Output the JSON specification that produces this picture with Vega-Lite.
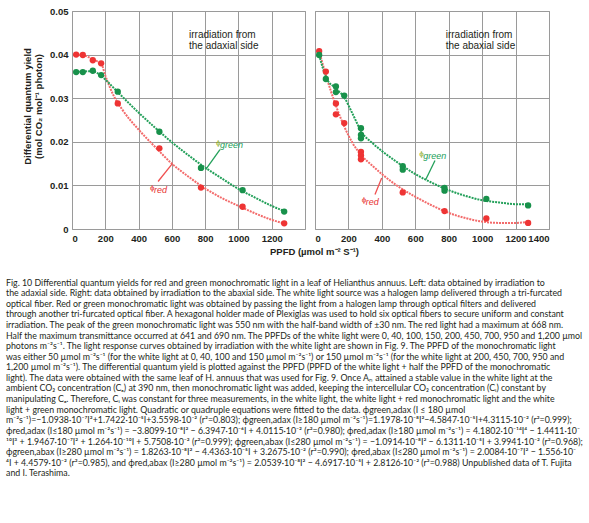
{
  "$schema": "https://vega.github.io/schema/vega-lite/v6.json",
  "background": "white",
  "padding": {"left": 6, "top": 5, "right": 3, "bottom": 5},
  "bounds": "flush",
  "spacing": 10,
  "title": {
    "text": [
      "Fig. 10  Differential quantum yields for red and green monochromatic light in a leaf of Helianthus annuus. Left: data obtained by irradiation to",
      "the adaxial side. Right: data obtained by irradiation to the abaxial side. The white light source was a halogen lamp delivered through a tri-furcated",
      "optical fiber. Red or green monochromatic light was obtained by passing the light from a halogen lamp through optical filters and delivered",
      "through another tri-furcated optical fiber. A hexagonal holder made of Plexiglas was used to hold six optical fibers to secure uniform and constant",
      "irradiation. The peak of the green monochromatic light was 550 nm with the half-band width of ±30 nm. The red light had a maximum at 668 nm.",
      "Half the maximum transmittance occurred at 641 and 690 nm. The PPFDs of the white light were 0, 40, 100, 150, 200, 450, 700, 950 and 1,200 µmol",
      "photons m⁻²s⁻¹. The light response curves obtained by irradiation with the white light are shown in Fig. 9. The PPFD of the monochromatic light",
      "was either 50 µmol m⁻²s⁻¹ (for the white light at 0, 40, 100 and 150 µmol m⁻²s⁻¹) or 150 µmol m⁻²s⁻¹ (for the white light at 200, 450, 700, 950 and",
      "1,200 µmol m⁻²s⁻¹). The differential quantum yield is plotted against the PPFD (PPFD of the white light + half the PPFD of the monochromatic",
      "light). The data were obtained with the same leaf of H. annuus that was used for Fig. 9. Once Aₙ attained a stable value in the white light at the",
      "ambient CO₂ concentration (Cₐ) at 390 nm, then monochromatic light was added, keeping the intercellular CO₂ concentration (Cᵢ) constant by",
      "manipulating Cₐ. Therefore, Cᵢ was constant for three measurements, in the white light, the white light + red monochromatic light and the white",
      "light + green   monochromatic   light.   Quadratic   or   quadruple   equations   were   fitted   to   the   data.   ϕgreen,adax   (I ≤ 180 µmol",
      "m⁻²s⁻¹)=−1.0938·10⁻⁷I²+1.7422·10⁻⁵I+3.5598·10⁻² (r²=0.803); ϕgreen,adax (I≥180 µmol m⁻²s⁻¹)=1.1978·10⁻⁸I²−4.5847·10⁻⁵I+4.3115·10⁻² (r²=0.999);",
      "ϕred,adax (I≤180 µmol m⁻²s⁻¹) = −3.8099·10⁻⁸I² − 6.3947·10⁻⁶I + 4.0115·10⁻² (r²=0.980); ϕred,adax (I≥180 µmol m⁻²s⁻¹) = 4.1802·10⁻¹⁴I⁴ − 1.4411·10⁻",
      "¹⁰I³ + 1.9467·10⁻⁷I² + 1.264·10⁻¹⁰I + 5.7508·10⁻² (r²=0.999); ϕgreen,abax (I≤280 µmol m⁻²s⁻¹) = −1.0914·10⁻⁸I² − 6.1311·10⁻⁵I + 3.9941·10⁻² (r²=0.968);",
      "ϕgreen,abax (I≥280 µmol m⁻²s⁻¹) = 1.8263·10⁻⁸I² − 4.4363·10⁻⁵I + 3.2675·10⁻² (r²=0.990); ϕred,abax (I≤280 µmol m⁻²s⁻¹) = 2.0084·10⁻⁷I² − 1.556·10⁻",
      "⁴I + 4.4579·10⁻² (r²=0.985), and ϕred,abax (I≥280 µmol m⁻²s⁻¹) = 2.0539·10⁻⁸I² − 4.6917·10⁻⁵I + 2.8126·10⁻² (r²=0.988) Unpublished data of T. Fujita",
      "and I. Terashima."
    ],
    "orient": "bottom",
    "anchor": "start",
    "frame": "bounds",
    "font": "Lato",
    "fontSize": 8.8,
    "fontWeight": "normal",
    "color": "#231f20",
    "lineHeight": 10.6,
    "offset": 22,
    "dx": -16
  },
  "datasets": {
    "adax_pts": [
      {"ppfd": 25, "yield": 0.0400, "series": "red"},
      {"ppfd": 65, "yield": 0.0399, "series": "red"},
      {"ppfd": 125, "yield": 0.0387, "series": "red"},
      {"ppfd": 175, "yield": 0.0380, "series": "red"},
      {"ppfd": 275, "yield": 0.0288, "series": "red"},
      {"ppfd": 525, "yield": 0.0185, "series": "red"},
      {"ppfd": 775, "yield": 0.0095, "series": "red"},
      {"ppfd": 1025, "yield": 0.0051, "series": "red"},
      {"ppfd": 1275, "yield": 0.0013, "series": "red"},
      {"ppfd": 25, "yield": 0.0360, "series": "green"},
      {"ppfd": 65, "yield": 0.0360, "series": "green"},
      {"ppfd": 125, "yield": 0.0363, "series": "green"},
      {"ppfd": 175, "yield": 0.0353, "series": "green"},
      {"ppfd": 275, "yield": 0.0315, "series": "green"},
      {"ppfd": 525, "yield": 0.0223, "series": "green"},
      {"ppfd": 775, "yield": 0.0140, "series": "green"},
      {"ppfd": 1025, "yield": 0.0089, "series": "green"},
      {"ppfd": 1275, "yield": 0.0040, "series": "green"}
    ],
    "adax_fit": [
      {"ppfd": 25, "yield": 0.0400, "series": "red fit"},
      {"ppfd": 65, "yield": 0.0399, "series": "red fit"},
      {"ppfd": 100, "yield": 0.0394, "series": "red fit"},
      {"ppfd": 125, "yield": 0.0389, "series": "red fit"},
      {"ppfd": 150, "yield": 0.0385, "series": "red fit"},
      {"ppfd": 175, "yield": 0.0380, "series": "red fit"},
      {"ppfd": 200, "yield": 0.0352, "series": "red fit"},
      {"ppfd": 250, "yield": 0.0306, "series": "red fit"},
      {"ppfd": 300, "yield": 0.0275, "series": "red fit"},
      {"ppfd": 400, "yield": 0.0228, "series": "red fit"},
      {"ppfd": 500, "yield": 0.0188, "series": "red fit"},
      {"ppfd": 600, "yield": 0.0150, "series": "red fit"},
      {"ppfd": 700, "yield": 0.0120, "series": "red fit"},
      {"ppfd": 800, "yield": 0.0093, "series": "red fit"},
      {"ppfd": 900, "yield": 0.0071, "series": "red fit"},
      {"ppfd": 1000, "yield": 0.0053, "series": "red fit"},
      {"ppfd": 1100, "yield": 0.0036, "series": "red fit"},
      {"ppfd": 1200, "yield": 0.0021, "series": "red fit"},
      {"ppfd": 1275, "yield": 0.0013, "series": "red fit"},
      {"ppfd": 25, "yield": 0.0360, "series": "green fit"},
      {"ppfd": 65, "yield": 0.0361, "series": "green fit"},
      {"ppfd": 100, "yield": 0.0362, "series": "green fit"},
      {"ppfd": 125, "yield": 0.0362, "series": "green fit"},
      {"ppfd": 150, "yield": 0.0358, "series": "green fit"},
      {"ppfd": 175, "yield": 0.0352, "series": "green fit"},
      {"ppfd": 200, "yield": 0.0343, "series": "green fit"},
      {"ppfd": 275, "yield": 0.0314, "series": "green fit"},
      {"ppfd": 400, "yield": 0.0267, "series": "green fit"},
      {"ppfd": 500, "yield": 0.0232, "series": "green fit"},
      {"ppfd": 600, "yield": 0.0199, "series": "green fit"},
      {"ppfd": 700, "yield": 0.0169, "series": "green fit"},
      {"ppfd": 800, "yield": 0.0141, "series": "green fit"},
      {"ppfd": 900, "yield": 0.0116, "series": "green fit"},
      {"ppfd": 1000, "yield": 0.0092, "series": "green fit"},
      {"ppfd": 1100, "yield": 0.0072, "series": "green fit"},
      {"ppfd": 1200, "yield": 0.0053, "series": "green fit"},
      {"ppfd": 1275, "yield": 0.0041, "series": "green fit"}
    ],
    "abax_pts": [
      {"ppfd": 25, "yield": 0.0408, "series": "red"},
      {"ppfd": 65, "yield": 0.0361, "series": "red"},
      {"ppfd": 125, "yield": 0.0288, "series": "red"},
      {"ppfd": 125, "yield": 0.0263, "series": "red"},
      {"ppfd": 175, "yield": 0.0243, "series": "red"},
      {"ppfd": 275, "yield": 0.0177, "series": "red"},
      {"ppfd": 275, "yield": 0.0169, "series": "red"},
      {"ppfd": 275, "yield": 0.0160, "series": "red"},
      {"ppfd": 525, "yield": 0.0084, "series": "red"},
      {"ppfd": 775, "yield": 0.0041, "series": "red"},
      {"ppfd": 1025, "yield": 0.0024, "series": "red"},
      {"ppfd": 1275, "yield": 0.0014, "series": "red"},
      {"ppfd": 25, "yield": 0.0399, "series": "green"},
      {"ppfd": 65, "yield": 0.0344, "series": "green"},
      {"ppfd": 125, "yield": 0.0327, "series": "green"},
      {"ppfd": 125, "yield": 0.0314, "series": "green"},
      {"ppfd": 175, "yield": 0.0306, "series": "green"},
      {"ppfd": 275, "yield": 0.0231, "series": "green"},
      {"ppfd": 275, "yield": 0.0216, "series": "green"},
      {"ppfd": 275, "yield": 0.0208, "series": "green"},
      {"ppfd": 525, "yield": 0.0144, "series": "green"},
      {"ppfd": 525, "yield": 0.0136, "series": "green"},
      {"ppfd": 775, "yield": 0.0094, "series": "green"},
      {"ppfd": 775, "yield": 0.0088, "series": "green"},
      {"ppfd": 1025, "yield": 0.0069, "series": "green"},
      {"ppfd": 1275, "yield": 0.0054, "series": "green"}
    ],
    "abax_fit": [
      {"ppfd": 25, "yield": 0.0408, "series": "red fit"},
      {"ppfd": 65, "yield": 0.0353, "series": "red fit"},
      {"ppfd": 125, "yield": 0.0283, "series": "red fit"},
      {"ppfd": 175, "yield": 0.0235, "series": "red fit"},
      {"ppfd": 225, "yield": 0.0197, "series": "red fit"},
      {"ppfd": 280, "yield": 0.0168, "series": "red fit"},
      {"ppfd": 350, "yield": 0.0143, "series": "red fit"},
      {"ppfd": 400, "yield": 0.0126, "series": "red fit"},
      {"ppfd": 500, "yield": 0.0097, "series": "red fit"},
      {"ppfd": 600, "yield": 0.0074, "series": "red fit"},
      {"ppfd": 700, "yield": 0.0054, "series": "red fit"},
      {"ppfd": 800, "yield": 0.0037, "series": "red fit"},
      {"ppfd": 900, "yield": 0.0025, "series": "red fit"},
      {"ppfd": 1000, "yield": 0.0017, "series": "red fit"},
      {"ppfd": 1100, "yield": 0.0014, "series": "red fit"},
      {"ppfd": 1200, "yield": 0.0014, "series": "red fit"},
      {"ppfd": 1275, "yield": 0.0016, "series": "red fit"},
      {"ppfd": 25, "yield": 0.0399, "series": "green fit"},
      {"ppfd": 65, "yield": 0.0349, "series": "green fit"},
      {"ppfd": 125, "yield": 0.0322, "series": "green fit"},
      {"ppfd": 175, "yield": 0.0302, "series": "green fit"},
      {"ppfd": 225, "yield": 0.0264, "series": "green fit"},
      {"ppfd": 280, "yield": 0.0222, "series": "green fit"},
      {"ppfd": 350, "yield": 0.0195, "series": "green fit"},
      {"ppfd": 400, "yield": 0.0179, "series": "green fit"},
      {"ppfd": 500, "yield": 0.0151, "series": "green fit"},
      {"ppfd": 600, "yield": 0.0126, "series": "green fit"},
      {"ppfd": 700, "yield": 0.0106, "series": "green fit"},
      {"ppfd": 800, "yield": 0.0089, "series": "green fit"},
      {"ppfd": 900, "yield": 0.0076, "series": "green fit"},
      {"ppfd": 1000, "yield": 0.0066, "series": "green fit"},
      {"ppfd": 1100, "yield": 0.0061, "series": "green fit"},
      {"ppfd": 1200, "yield": 0.0057, "series": "green fit"},
      {"ppfd": 1275, "yield": 0.0057, "series": "green fit"}
    ]
  },
  "hconcat": [
    {
      "width": 233,
      "height": 218,
      "layer": [
        {
          "data": {"name": "adax_fit"},
          "mark": {"type": "line", "strokeWidth": 2, "strokeDash": [2, 1], "interpolate": "monotone"},
          "encoding": {
            "x": {"field": "ppfd", "type": "quantitative", "scale": {"domain": [0, 1400], "nice": false},
              "axis": {"values": [0, 200, 400, 600, 800, 1000, 1200, 1400], "format": "d", "labelOverlap": false, "labelExpr": "datum.value == 1400 ? '' : datum.label", "title": "PPFD (µmol m⁻² S⁻¹)", "titleX": 242, "titleAlign": "center", "titlePadding": 4}},
            "y": {"field": "yield", "type": "quantitative", "scale": {"domain": [0, 0.05], "nice": false},
              "axis": {"values": [0, 0.01, 0.02, 0.03, 0.04, 0.05], "format": ".2~f", "labelOverlap": false, "title": ["Differential quantum yield", "(mol CO₂ mol⁻¹ photon)"], "titleY": 95, "titleLineHeight": 11, "titlePadding": 6}},
            "color": {"field": "series", "type": "nominal", "legend": null,
              "scale": {"domain": ["red", "green", "red fit", "green fit"], "range": ["#ee3434", "#18914b", "#f36b6b", "#23a05a"]}}
          }
        },
        {
          "data": {"name": "adax_pts"},
          "mark": {"type": "circle", "size": 40, "opacity": 1},
          "encoding": {
            "x": {"field": "ppfd", "type": "quantitative",
              "axis": {"values": [0, 200, 400, 600, 800, 1000, 1200, 1400], "format": "d", "labelOverlap": false, "labelExpr": "datum.value == 1400 ? '' : datum.label", "title": "PPFD (µmol m⁻² S⁻¹)", "titleX": 242, "titleAlign": "center", "titlePadding": 4}},
            "y": {"field": "yield", "type": "quantitative",
              "axis": {"values": [0, 0.01, 0.02, 0.03, 0.04, 0.05], "format": ".2~f", "labelOverlap": false, "title": ["Differential quantum yield", "(mol CO₂ mol⁻¹ photon)"], "titleY": 95, "titleLineHeight": 11, "titlePadding": 6}},
            "color": {"field": "series", "type": "nominal", "legend": null}
          }
        },
        {
          "data": {"values": [{}]},
          "mark": {"type": "text", "align": "left", "baseline": "top", "fontSize": 10, "lineHeight": 11, "color": "#231f20", "font": "Liberation Sans", "text": ["irradiation from", "the adaxial side"]},
          "encoding": {
            "x": {"datum": 703, "type": "quantitative",
              "axis": {"values": [0, 200, 400, 600, 800, 1000, 1200, 1400], "format": "d", "labelOverlap": false, "labelExpr": "datum.value == 1400 ? '' : datum.label", "title": "PPFD (µmol m⁻² S⁻¹)", "titleX": 242, "titleAlign": "center", "titlePadding": 4}},
            "y": {"datum": 0.0457, "type": "quantitative",
              "axis": {"values": [0, 0.01, 0.02, 0.03, 0.04, 0.05], "format": ".2~f", "labelOverlap": false, "title": ["Differential quantum yield", "(mol CO₂ mol⁻¹ photon)"], "titleY": 95, "titleLineHeight": 11, "titlePadding": 6}}
          }
        },
        {
          "data": {"values": [{}]},
          "mark": {"type": "rule", "color": "#23a05a", "strokeWidth": 1.3},
          "encoding": {
            "x": {"datum": 889, "type": "quantitative",
              "axis": {"values": [0, 200, 400, 600, 800, 1000, 1200, 1400], "format": "d", "labelOverlap": false, "labelExpr": "datum.value == 1400 ? '' : datum.label", "title": "PPFD (µmol m⁻² S⁻¹)", "titleX": 242, "titleAlign": "center", "titlePadding": 4}},
            "y": {"datum": 0.0182, "type": "quantitative",
              "axis": {"values": [0, 0.01, 0.02, 0.03, 0.04, 0.05], "format": ".2~f", "labelOverlap": false, "title": ["Differential quantum yield", "(mol CO₂ mol⁻¹ photon)"], "titleY": 95, "titleLineHeight": 11, "titlePadding": 6}},
            "x2": {"datum": 803}, "y2": {"datum": 0.0136}
          }
        },
        {
          "data": {"values": [{}]},
          "mark": {"type": "rule", "color": "#f05050", "strokeWidth": 1.3},
          "encoding": {
            "x": {"datum": 517, "type": "quantitative",
              "axis": {"values": [0, 200, 400, 600, 800, 1000, 1200, 1400], "format": "d", "labelOverlap": false, "labelExpr": "datum.value == 1400 ? '' : datum.label", "title": "PPFD (µmol m⁻² S⁻¹)", "titleX": 242, "titleAlign": "center", "titlePadding": 4}},
            "y": {"datum": 0.0109, "type": "quantitative",
              "axis": {"values": [0, 0.01, 0.02, 0.03, 0.04, 0.05], "format": ".2~f", "labelOverlap": false, "title": ["Differential quantum yield", "(mol CO₂ mol⁻¹ photon)"], "titleY": 95, "titleLineHeight": 11, "titlePadding": 6}},
            "x2": {"datum": 603}, "y2": {"datum": 0.0150}
          }
        },
        {
          "data": {"values": [{}]},
          "mark": {"type": "text", "align": "left", "baseline": "middle", "fontSize": 8, "color": "#8fae1f", "font": "Liberation Sans", "text": "ϕ"},
          "encoding": {
            "x": {"datum": 865, "type": "quantitative",
              "axis": {"values": [0, 200, 400, 600, 800, 1000, 1200, 1400], "format": "d", "labelOverlap": false, "labelExpr": "datum.value == 1400 ? '' : datum.label", "title": "PPFD (µmol m⁻² S⁻¹)", "titleX": 242, "titleAlign": "center", "titlePadding": 4}},
            "y": {"datum": 0.0197, "type": "quantitative",
              "axis": {"values": [0, 0.01, 0.02, 0.03, 0.04, 0.05], "format": ".2~f", "labelOverlap": false, "title": ["Differential quantum yield", "(mol CO₂ mol⁻¹ photon)"], "titleY": 95, "titleLineHeight": 11, "titlePadding": 6}}
          }
        },
        {
          "data": {"values": [{}]},
          "mark": {"type": "text", "align": "left", "baseline": "middle", "fontSize": 9, "fontStyle": "italic", "color": "#23a05a", "font": "Liberation Sans", "text": "green", "dx": 4, "dy": 2},
          "encoding": {
            "x": {"datum": 865, "type": "quantitative",
              "axis": {"values": [0, 200, 400, 600, 800, 1000, 1200, 1400], "format": "d", "labelOverlap": false, "labelExpr": "datum.value == 1400 ? '' : datum.label", "title": "PPFD (µmol m⁻² S⁻¹)", "titleX": 242, "titleAlign": "center", "titlePadding": 4}},
            "y": {"datum": 0.0197, "type": "quantitative",
              "axis": {"values": [0, 0.01, 0.02, 0.03, 0.04, 0.05], "format": ".2~f", "labelOverlap": false, "title": ["Differential quantum yield", "(mol CO₂ mol⁻¹ photon)"], "titleY": 95, "titleLineHeight": 11, "titlePadding": 6}}
          }
        },
        {
          "data": {"values": [{}]},
          "mark": {"type": "text", "align": "left", "baseline": "middle", "fontSize": 8, "color": "#e83030", "font": "Liberation Sans", "text": "ϕ"},
          "encoding": {
            "x": {"datum": 469, "type": "quantitative",
              "axis": {"values": [0, 200, 400, 600, 800, 1000, 1200, 1400], "format": "d", "labelOverlap": false, "labelExpr": "datum.value == 1400 ? '' : datum.label", "title": "PPFD (µmol m⁻² S⁻¹)", "titleX": 242, "titleAlign": "center", "titlePadding": 4}},
            "y": {"datum": 0.0093, "type": "quantitative",
              "axis": {"values": [0, 0.01, 0.02, 0.03, 0.04, 0.05], "format": ".2~f", "labelOverlap": false, "title": ["Differential quantum yield", "(mol CO₂ mol⁻¹ photon)"], "titleY": 95, "titleLineHeight": 11, "titlePadding": 6}}
          }
        },
        {
          "data": {"values": [{}]},
          "mark": {"type": "text", "align": "left", "baseline": "middle", "fontSize": 9, "fontStyle": "italic", "color": "#e83030", "font": "Liberation Sans", "text": "red", "dx": 4, "dy": 2},
          "encoding": {
            "x": {"datum": 469, "type": "quantitative",
              "axis": {"values": [0, 200, 400, 600, 800, 1000, 1200, 1400], "format": "d", "labelOverlap": false, "labelExpr": "datum.value == 1400 ? '' : datum.label", "title": "PPFD (µmol m⁻² S⁻¹)", "titleX": 242, "titleAlign": "center", "titlePadding": 4}},
            "y": {"datum": 0.0093, "type": "quantitative",
              "axis": {"values": [0, 0.01, 0.02, 0.03, 0.04, 0.05], "format": ".2~f", "labelOverlap": false, "title": ["Differential quantum yield", "(mol CO₂ mol⁻¹ photon)"], "titleY": 95, "titleLineHeight": 11, "titlePadding": 6}}
          }
        }
      ]
    },
    {
      "width": 234,
      "height": 218,
      "layer": [
        {
          "data": {"name": "abax_fit"},
          "mark": {"type": "line", "strokeWidth": 2, "strokeDash": [2, 1], "interpolate": "monotone"},
          "encoding": {
            "x": {"field": "ppfd", "type": "quantitative", "scale": {"domain": [0, 1400], "nice": false},
              "axis": {"values": [0, 200, 400, 600, 800, 1000, 1200, 1400], "format": "d", "labelOverlap": false, "title": null}},
            "y": {"field": "yield", "type": "quantitative", "scale": {"domain": [0, 0.05], "nice": false},
              "axis": {"values": [0, 0.01, 0.02, 0.03, 0.04, 0.05], "labels": false, "labelOverlap": false, "title": null}},
            "color": {"field": "series", "type": "nominal", "legend": null,
              "scale": {"domain": ["red", "green", "red fit", "green fit"], "range": ["#ee3434", "#18914b", "#f36b6b", "#23a05a"]}}
          }
        },
        {
          "data": {"name": "abax_pts"},
          "mark": {"type": "circle", "size": 40, "opacity": 1},
          "encoding": {
            "x": {"field": "ppfd", "type": "quantitative", "axis": {"values": [0, 200, 400, 600, 800, 1000, 1200, 1400], "format": "d", "labelOverlap": false, "title": null}},
            "y": {"field": "yield", "type": "quantitative", "axis": {"values": [0, 0.01, 0.02, 0.03, 0.04, 0.05], "labels": false, "labelOverlap": false, "title": null}},
            "color": {"field": "series", "type": "nominal", "legend": null}
          }
        },
        {
          "data": {"values": [{}]},
          "mark": {"type": "text", "align": "left", "baseline": "top", "fontSize": 10, "lineHeight": 11, "color": "#231f20", "font": "Liberation Sans", "text": ["irradiation from", "the abaxial side"]},
          "encoding": {
            "x": {"datum": 782, "type": "quantitative", "axis": {"values": [0, 200, 400, 600, 800, 1000, 1200, 1400], "format": "d", "labelOverlap": false, "title": null}},
            "y": {"datum": 0.0457, "type": "quantitative", "axis": {"values": [0, 0.01, 0.02, 0.03, 0.04, 0.05], "labels": false, "labelOverlap": false, "title": null}}
          }
        },
        {
          "data": {"values": [{}]},
          "mark": {"type": "rule", "color": "#23a05a", "strokeWidth": 1.3},
          "encoding": {
            "x": {"datum": 718, "type": "quantitative", "axis": {"values": [0, 200, 400, 600, 800, 1000, 1200, 1400], "format": "d", "labelOverlap": false, "title": null}},
            "y": {"datum": 0.0157, "type": "quantitative", "axis": {"values": [0, 0.01, 0.02, 0.03, 0.04, 0.05], "labels": false, "labelOverlap": false, "title": null}},
            "x2": {"datum": 662}, "y2": {"datum": 0.0113}
          }
        },
        {
          "data": {"values": [{}]},
          "mark": {"type": "rule", "color": "#f05050", "strokeWidth": 1.3},
          "encoding": {
            "x": {"datum": 359, "type": "quantitative", "axis": {"values": [0, 200, 400, 600, 800, 1000, 1200, 1400], "format": "d", "labelOverlap": false, "title": null}},
            "y": {"datum": 0.0079, "type": "quantitative", "axis": {"values": [0, 0.01, 0.02, 0.03, 0.04, 0.05], "labels": false, "labelOverlap": false, "title": null}},
            "x2": {"datum": 399}, "y2": {"datum": 0.0117}
          }
        },
        {
          "data": {"values": [{}]},
          "mark": {"type": "text", "align": "left", "baseline": "middle", "fontSize": 8, "color": "#8fae1f", "font": "Liberation Sans", "text": "ϕ"},
          "encoding": {
            "x": {"datum": 624, "type": "quantitative", "axis": {"values": [0, 200, 400, 600, 800, 1000, 1200, 1400], "format": "d", "labelOverlap": false, "title": null}},
            "y": {"datum": 0.0172, "type": "quantitative", "axis": {"values": [0, 0.01, 0.02, 0.03, 0.04, 0.05], "labels": false, "labelOverlap": false, "title": null}}
          }
        },
        {
          "data": {"values": [{}]},
          "mark": {"type": "text", "align": "left", "baseline": "middle", "fontSize": 9, "fontStyle": "italic", "color": "#23a05a", "font": "Liberation Sans", "text": "green", "dx": 4, "dy": 2},
          "encoding": {
            "x": {"datum": 624, "type": "quantitative", "axis": {"values": [0, 200, 400, 600, 800, 1000, 1200, 1400], "format": "d", "labelOverlap": false, "title": null}},
            "y": {"datum": 0.0172, "type": "quantitative", "axis": {"values": [0, 0.01, 0.02, 0.03, 0.04, 0.05], "labels": false, "labelOverlap": false, "title": null}}
          }
        },
        {
          "data": {"values": [{}]},
          "mark": {"type": "text", "align": "left", "baseline": "middle", "fontSize": 8, "color": "#e83030", "font": "Liberation Sans", "text": "ϕ"},
          "encoding": {
            "x": {"datum": 279, "type": "quantitative", "axis": {"values": [0, 200, 400, 600, 800, 1000, 1200, 1400], "format": "d", "labelOverlap": false, "title": null}},
            "y": {"datum": 0.0066, "type": "quantitative", "axis": {"values": [0, 0.01, 0.02, 0.03, 0.04, 0.05], "labels": false, "labelOverlap": false, "title": null}}
          }
        },
        {
          "data": {"values": [{}]},
          "mark": {"type": "text", "align": "left", "baseline": "middle", "fontSize": 9, "fontStyle": "italic", "color": "#e83030", "font": "Liberation Sans", "text": "red", "dx": 4, "dy": 2},
          "encoding": {
            "x": {"datum": 279, "type": "quantitative", "axis": {"values": [0, 200, 400, 600, 800, 1000, 1200, 1400], "format": "d", "labelOverlap": false, "title": null}},
            "y": {"datum": 0.0066, "type": "quantitative", "axis": {"values": [0, 0.01, 0.02, 0.03, 0.04, 0.05], "labels": false, "labelOverlap": false, "title": null}}
          }
        }
      ]
    }
  ],
  "config": {
    "view": {"stroke": "#9a9a9a", "strokeWidth": 1},
    "axis": {
      "grid": true, "gridColor": "#9a9a9a", "gridWidth": 1, "gridOpacity": 1,
      "ticks": false, "domain": false, "labelOverlap": false,
      "labelFont": "Liberation Sans", "labelFontSize": 9.5, "labelFontWeight": "bold", "labelColor": "#231f20", "labelPadding": 4,
      "titleFont": "Liberation Sans", "titleFontSize": 9.5, "titleFontWeight": "bold", "titleColor": "#231f20"
    }
  }
}
